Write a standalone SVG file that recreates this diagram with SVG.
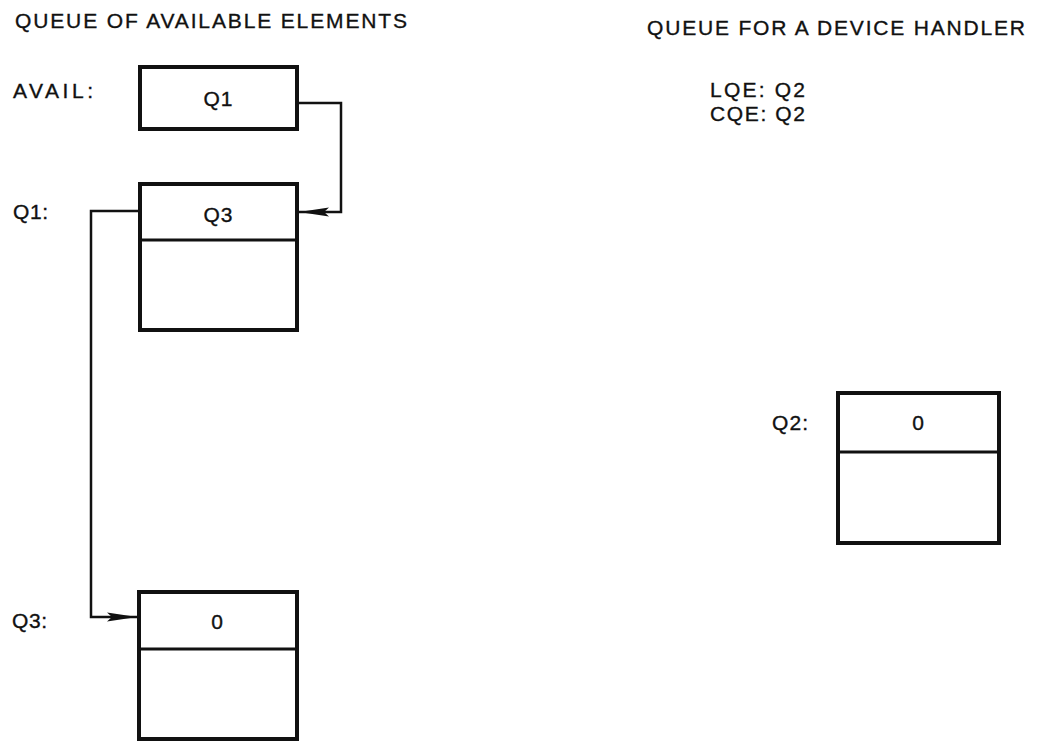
<svg xmlns="http://www.w3.org/2000/svg" width="1040" height="742" viewBox="0 0 1040 742">
<style>
text{font-family:"Liberation Sans",Arial,sans-serif;font-size:21px;fill:#111;stroke:#111;stroke-width:0.35}
.box{fill:#fff;stroke:#111;stroke-width:4}
.div{stroke:#111;stroke-width:3}
.conn{fill:none;stroke:#111;stroke-width:2.5}
.c{text-anchor:middle}
</style>
<defs>
<marker id="arrL" viewBox="0 0 30 12" refX="30" refY="6" markerWidth="30" markerHeight="12" markerUnits="userSpaceOnUse" orient="auto">
<path d="M0,1.5 L30,6 L0,10.5 L5,6 Z" fill="#111"/>
</marker>
</defs>
<rect width="1040" height="742" fill="#fff"/>
<text x="15" y="28" textLength="392" lengthAdjust="spacing">QUEUE OF AVAILABLE ELEMENTS</text>
<text x="647" y="35" textLength="378" lengthAdjust="spacing">QUEUE FOR A DEVICE HANDLER</text>
<text x="710" y="97" textLength="95" lengthAdjust="spacing">LQE: Q2</text>
<text x="710" y="121" textLength="95" lengthAdjust="spacing">CQE: Q2</text>
<text x="13" y="98" textLength="80" lengthAdjust="spacing">AVAIL:</text>
<text x="13" y="219" textLength="35" lengthAdjust="spacing">Q1:</text>
<text x="12" y="628" textLength="35" lengthAdjust="spacing">Q3:</text>
<text x="772" y="430" textLength="36" lengthAdjust="spacing">Q2:</text>
<g id="connectors">
<path class="conn" d="M297,103 H341 V212 H299" marker-end="url(#arrL)"/>
<path class="conn" d="M140,211 H91 V617 H137" marker-end="url(#arrL)"/>
</g>
<g id="avail">
<rect class="box" x="140" y="67" width="157" height="62"/>
<text class="c" x="218" y="106" textLength="29" lengthAdjust="spacing">Q1</text>
</g>
<g id="q1">
<rect class="box" x="140" y="184" width="157" height="146"/>
<line class="div" x1="140" y1="240" x2="297" y2="240"/>
<text class="c" x="218" y="222" textLength="29" lengthAdjust="spacing">Q3</text>
</g>
<g id="q3">
<rect class="box" x="139" y="592" width="158" height="147"/>
<line class="div" x1="139" y1="649" x2="297" y2="649"/>
<text class="c" x="217" y="629">0</text>
</g>
<g id="q2">
<rect class="box" x="838" y="393" width="161" height="150"/>
<line class="div" x1="838" y1="452" x2="999" y2="452"/>
<text class="c" x="918" y="430">0</text>
</g>
</svg>
